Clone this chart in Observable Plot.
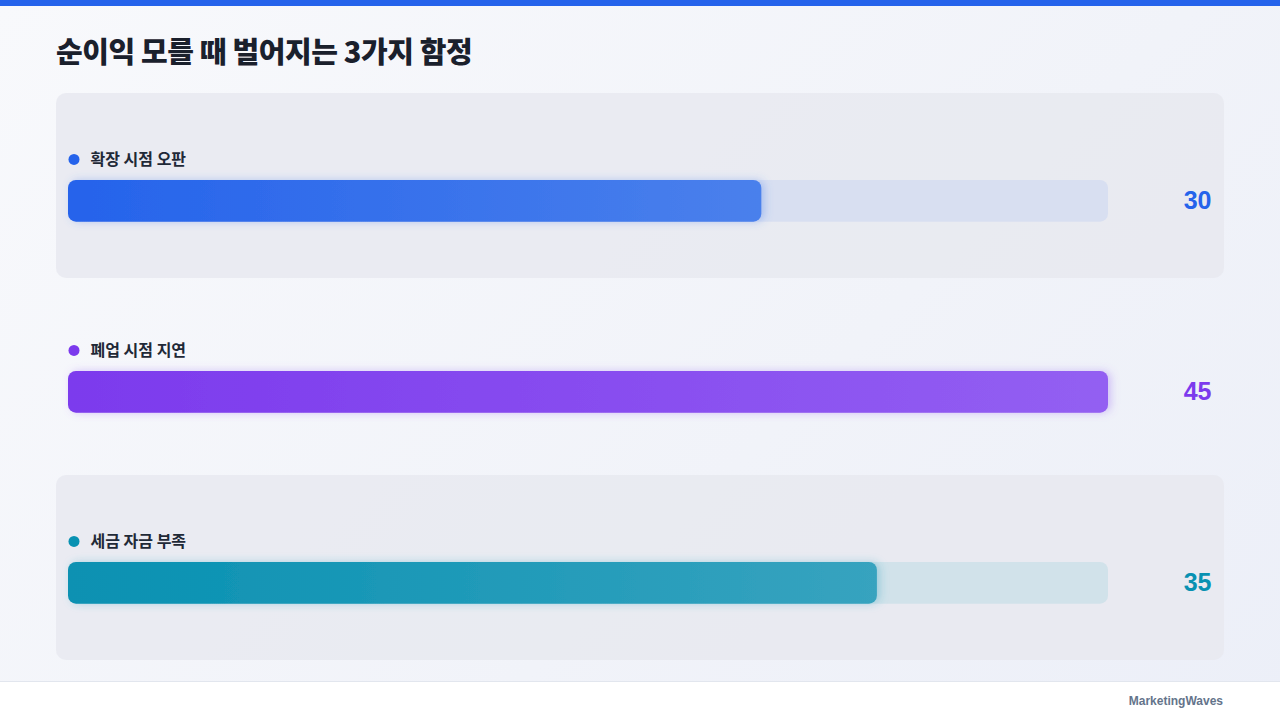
<!DOCTYPE html>
<html><head><meta charset="utf-8">
<script src="https://cdn.jsdelivr.net/npm/d3@7"></script>
<script src="https://cdn.jsdelivr.net/npm/@observablehq/plot@0.6"></script>
<style>
html,body{margin:0;padding:0;width:1280px;height:720px;overflow:hidden;}
body{background:linear-gradient(135deg,#f8f9fc 0%,#f1f3f9 60%,#eceff8 100%);position:relative;font-family:"Noto Sans CJK KR","Noto Sans",sans-serif;}
#topbar{position:absolute;left:0;top:0;width:1280px;height:6px;background:#2563eb;}
#title{position:absolute;left:56px;top:30px;font-size:29px;font-weight:800;color:#1a202c;letter-spacing:-0.4px;line-height:40px;}
#chart{position:absolute;left:0;top:0;}
#footer{position:absolute;left:0;top:681px;width:1280px;height:39px;background:#ffffff;border-top:1px solid #e2e6ee;}
#brand{position:absolute;right:57px;top:12px;font-family:"Liberation Sans",Arial,sans-serif;font-weight:700;font-size:12px;color:#64748b;}
</style></head>
<body>
<div id="topbar"></div>
<div id="title">순이익 모를 때 벌어지는 3가지 함정</div>
<div id="chart"></div>
<div id="footer"><div id="brand">MarketingWaves</div></div>
<script>
const categories = ["확장 시점 오판", "폐업 시점 지연", "세금 자금 부족"];
const values = [30, 45, 35];
const colorsStart = ["#2563eb", "#7c3aed", "#0891b2"];
const colorsEnd = ["#4a80ec", "#935ff2", "#37a3bf"];
const trackColors = ["#d8dff1", "#e4dcf4", "#d1e2ea"];
const panelRows = [0, 2];
const maxValue = 45;

const rows = categories.map((name, i) => ({name, value: values[i], i}));
const panels = panelRows.map(i => rows[i]);

const defsMark = () => {
  const g = d3.create("svg:g");
  const defs = g.append("defs");
  rows.forEach((r, i) => {
    const lg = defs.append("linearGradient").attr("id", "grad" + i)
      .attr("x1", "0%").attr("x2", "100%").attr("y1", "0%").attr("y2", "0%");
    lg.append("stop").attr("offset", "0%").attr("stop-color", colorsStart[i]);
    lg.append("stop").attr("offset", "100%").attr("stop-color", colorsEnd[i]);
    const f = defs.append("filter").attr("id", "glow" + i)
      .attr("x", "-10%").attr("y", "-50%").attr("width", "120%").attr("height", "200%");
    f.append("feDropShadow").attr("dx", 3).attr("dy", 0).attr("stdDeviation", 4)
      .attr("flood-color", colorsEnd[i]).attr("flood-opacity", 0.35);
  });
  return g.node();
};

const withGlow = (i) => (index, scales, vals, dims, ctx, next) => {
  const g = next(index, scales, vals, dims, ctx);
  if (g) g.setAttribute("filter", `url(#glow${i})`);
  return g;
};

const bandTopInset = 87, barH = 42;
const plot = Plot.plot({
  width: 1280,
  height: 681,
  marginLeft: 68,
  marginRight: 172,
  marginTop: 92,
  marginBottom: 21,
  x: {domain: [0, maxValue], axis: null},
  y: {domain: categories, axis: null, paddingInner: 0.0315, paddingOuter: 0},
  style: {background: "transparent", overflow: "visible"},
  marks: [
    defsMark,
    Plot.barX(panels, {x1: 0, x2: maxValue, y: "name", fill: "#e8e9f0", fillOpacity: 0.85, rx: 10, insetLeft: -12, insetRight: -116}),
    ...rows.map((r, i) => Plot.barX([r], {x1: 0, x2: maxValue, y: "name", fill: trackColors[i], rx: 8,
      insetTop: bandTopInset, insetBottom: 185.3 - bandTopInset - barH})),
    ...rows.map((r, i) => Plot.barX([r], {x: "value", y: "name", fill: `url(#grad${i})`, rx: 8,
      insetTop: bandTopInset, insetBottom: 185.3 - bandTopInset - barH, render: withGlow(i)})),
    Plot.dot(rows, {x: () => 0, y: "name", dx: 5.5, dy: -26.6, r: 5.5, fill: (d) => colorsStart[d.i], stroke: null}),
    Plot.text(rows, {x: () => 0, y: "name", text: "name", dx: 22, dy: -26.6, textAnchor: "start",
      fontSize: 16, fontWeight: 600, fill: "#1f2937", fontFamily: "Noto Sans CJK KR"}),
    Plot.text(rows, {x: () => maxValue, y: "name", text: d => String(d.value), dx: 103, dy: 15.4, textAnchor: "end",
      fontSize: 25, fontWeight: 700, fill: (d) => colorsStart[d.i], fontFamily: "Liberation Sans, Arial, sans-serif"})
  ]
});
document.getElementById("chart").appendChild(plot);
</script>
</body></html>
